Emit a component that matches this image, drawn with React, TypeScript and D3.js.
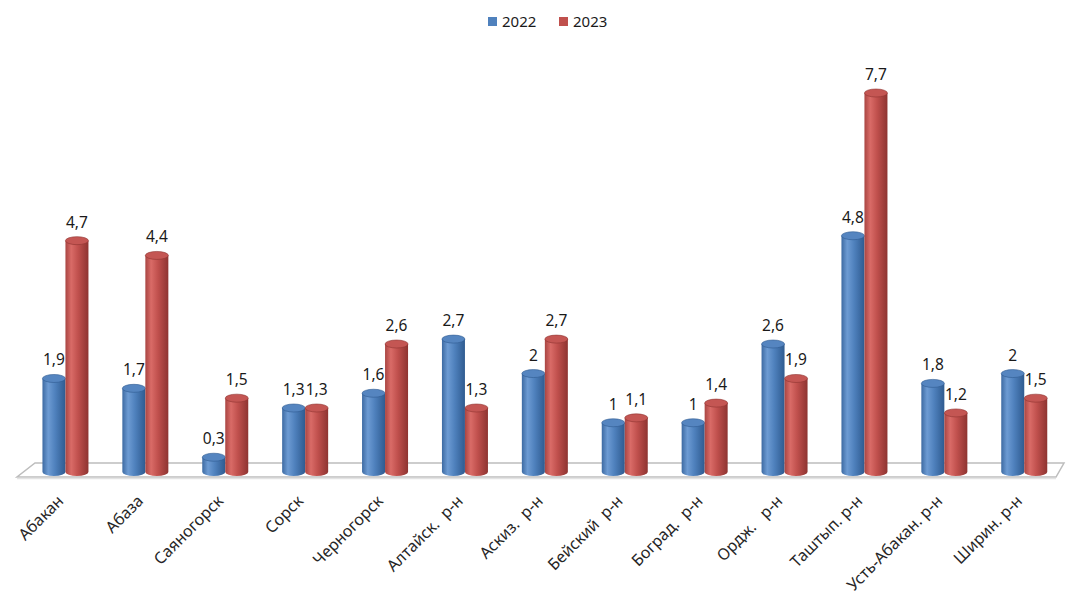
import React from "react";
import * as d3 from "d3";

const categories = [
  "Абакан",
  "Абаза",
  "Саяногорск",
  "Сорск",
  "Черногорск",
  "Алтайск.  р-н",
  "Аскиз.  р-н",
  "Бейский  р-н",
  "Боград.  р-н",
  "Ордж.   р-н",
  "Таштып. р-н",
  "Усть-Абакан. р-н",
  "Ширин. р-н",
];
const series = ["2022", "2023"];
const values2022 = [1.9, 1.7, 0.3, 1.3, 1.6, 2.7, 2, 1, 1, 2.6, 4.8, 1.8, 2];
const values2023 = [4.7, 4.4, 1.5, 1.3, 2.6, 1.3, 2.7, 1.1, 1.4, 1.9, 7.7, 1.2, 1.5];

const W = 1067;
const H = 599;
const colors: Record<string, { base: string; light: string; dark: string; edge: string; top: string }> = {
  "2022": { base: "#4f81bd", light: "#6d9bd3", dark: "#2f5b90", edge: "#3d6aa2", top: "#5585c0" },
  "2023": { base: "#c0504d", light: "#d96b67", dark: "#8e3431", edge: "#a94542", top: "#c45653" },
};

const fmt = (v: number) => String(v).replace(".", ",");
const FONT = "'Noto Sans', 'Liberation Sans', sans-serif";

export default function App() {
  const baseY = 472;
  const x0 = d3.scaleBand<string>().domain(categories).range([25.5, 1064.2]).paddingInner(0).paddingOuter(0);
  const x1 = d3.scaleBand<string>().domain(series).range([-23, 23]).paddingInner(0).paddingOuter(0);
  const y = d3.scaleLinear().domain([0, 7.7]).range([baseY, 93]);
  const bw = x1.bandwidth();
  const ry = 4;

  const data = categories.map((c, i) => ({ c, vals: [values2022[i], values2023[i]] }));

  const floorFrontY = 477;
  const floorBackY = 463;
  const floor = `M17,${floorFrontY} L1056,${floorFrontY} L1064,${floorBackY} L35,${floorBackY} Z`;

  return (
    <svg width={W} height={H} style={{ position: "absolute", left: 0, top: 0, background: "#fff" }} fontFamily={FONT}>
      <defs>
        {series.map((s) => (
          <linearGradient key={s} id={`g${s}`} x1="0" x2="1" y1="0" y2="0">
            <stop offset="0%" stopColor={colors[s].edge} />
            <stop offset="25%" stopColor={colors[s].light} />
            <stop offset="55%" stopColor={colors[s].base} />
            <stop offset="100%" stopColor={colors[s].dark} />
          </linearGradient>
        ))}
      </defs>
      <path d={floor} fill="#ffffff" stroke="#bdbdbd" strokeWidth={1.5} />
      <line x1={17} y1={floorFrontY + 1.5} x2={1056} y2={floorFrontY + 1.5} stroke="#e3e3e3" strokeWidth={1.5} />

      {data.map((d) => {
        const gx = (x0(d.c) ?? 0) + x0.bandwidth() / 2;
        return (
          <g key={d.c}>
            {series.map((s, j) => {
              const v = d.vals[j];
              const cx = gx + (x1(s) ?? 0) + bw / 2;
              const left = cx - bw / 2;
              const topY = y(v);
              const path = `M${left},${topY} L${left},${baseY} A${bw / 2},${ry} 0 0 0 ${left + bw},${baseY} L${left + bw},${topY} Z`;
              return (
                <g key={s}>
                  <path d={path} fill={`url(#g${s})`} />
                  <ellipse cx={cx} cy={topY} rx={bw / 2} ry={ry} fill={colors[s].top} stroke={colors[s].dark} strokeWidth={0.6} />
                  <text x={cx} y={topY - 13} textAnchor="middle" fontSize={15.5} fill="#1a1a1a">
                    {fmt(v)}
                  </text>
                </g>
              );
            })}
          </g>
        );
      })}

      {categories.map((c) => {
        const gx = (x0(c) ?? 0) + x0.bandwidth() / 2;
        const px = gx - 1;
        const py = 502;
        return (
          <text
            key={c}
            x={px}
            y={py}
            transform={`rotate(-45 ${px} ${py})`}
            textAnchor="end"
            fontSize={16}
            fill="#262626"
            style={{ whiteSpace: "pre" }}
            xmlSpace="preserve"
          >
            {c}
          </text>
        );
      })}

      {series.map((s, i) => {
        const lx = 488 + i * 71;
        return (
          <g key={s}>
            <rect x={lx} y={17} width={9} height={9} fill={colors[s].base} />
            <text x={lx + 14} y={27} fontSize={15} fill="#1a1a1a">
              {s}
            </text>
          </g>
        );
      })}
    </svg>
  );
}
